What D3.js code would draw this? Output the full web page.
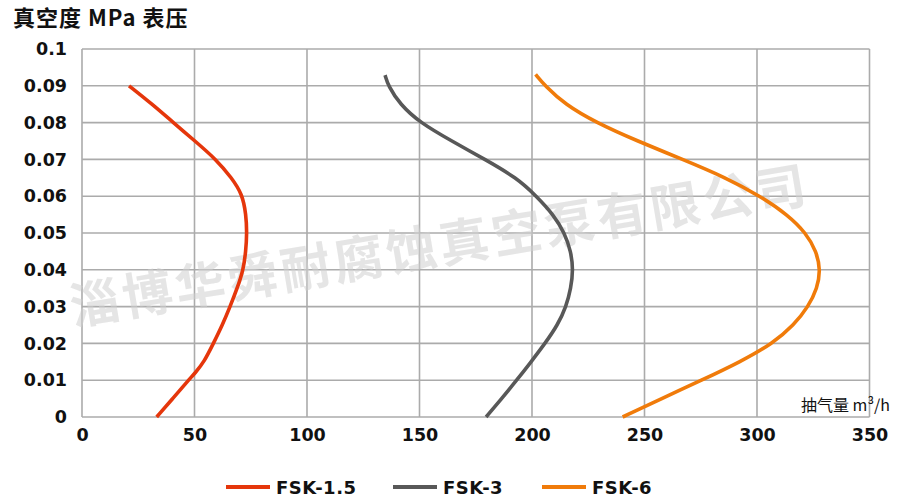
<!DOCTYPE html>
<html>
<head>
<meta charset="utf-8">
<script src="https://cdn.jsdelivr.net/npm/d3@7/dist/d3.min.js"></script>
<style>
html,body{margin:0;padding:0;background:#fff;}
svg{display:block;}
</style>
</head>
<body>
<svg id="chart" width="900" height="502"></svg>
<script>
// ---- data ----
const xTicks = [0, 50, 100, 150, 200, 250, 300, 350];
const yTicks = [0, 0.01, 0.02, 0.03, 0.04, 0.05, 0.06, 0.07, 0.08, 0.09, 0.1];
const yTickLabels = ["0", "0.01", "0.02", "0.03", "0.04", "0.05", "0.06", "0.07", "0.08", "0.09", "0.1"];
const seriesNames = ["FSK-1.5", "FSK-3", "FSK-6"];

const fsk15Flow = [20.9, 31.2, 40.6, 50.2, 59.6, 66.5, 71.3, 72.9, 73.3, 72.8, 71.7, 69, 65.8, 62.4, 58.4, 54.3, 50.2, 47.3, 40.3, 33.2];
const fsk15Vac  = [0.09, 0.085, 0.08, 0.075, 0.07, 0.065, 0.0605, 0.055, 0.05, 0.045, 0.04, 0.035, 0.03, 0.025, 0.02, 0.015, 0.0119, 0.01, 0.005, 0];

const fsk3Flow = [134.7, 136.1, 141.3, 150.2, 164.3, 179.1, 193.2, 202, 209.5, 214.5, 217.3, 218.3, 217.3, 215.2, 211.4, 205.8, 199.6, 193.2, 186.5, 179.6];
const fsk3Vac  = [0.0929, 0.09, 0.085, 0.08, 0.075, 0.07, 0.065, 0.06, 0.055, 0.05, 0.045, 0.04, 0.035, 0.03, 0.025, 0.02, 0.015, 0.01, 0.005, 0];

const fsk6Flow = [201.6, 205.8, 214.6, 228.5, 246.8, 267, 286.3, 301.5, 313.5, 321.8, 326.4, 328.2, 326.8, 322.8, 316.4, 307, 292.6, 275.4, 257.6, 240.3];
const fsk6Vac  = [0.0931, 0.09, 0.085, 0.08, 0.075, 0.07, 0.065, 0.06, 0.055, 0.05, 0.045, 0.04, 0.035, 0.03, 0.025, 0.02, 0.015, 0.01, 0.005, 0];

const seriesFlow = [fsk15Flow, fsk3Flow, fsk6Flow];
const seriesVac = [fsk15Vac, fsk3Vac, fsk6Vac];
const colors = ["#E5360B", "#585858", "#F07B0A"];

// ---- layout ----
const svg = d3.select("#chart");
const plotL = 82, plotR = 869.5, plotT = 49, plotB = 417;

const x = d3.scaleLinear().domain([0, 350]).range([plotL, plotR]);
const y = d3.scaleLinear().domain([0, 0.1]).range([plotB, plotT]);

const numFont = "'DejaVu Sans', Verdana, sans-serif";
const cjkFont = "'Noto Sans CJK SC', 'Noto Sans', sans-serif";

// grid
const grid = svg.append("g");
grid.selectAll("line.h").data(yTicks).enter().append("line")
  .attr("x1", plotL).attr("x2", plotR)
  .attr("y1", d => y(d)).attr("y2", d => y(d))
  .attr("stroke", "#ababab").attr("stroke-width", 1.6);
grid.selectAll("line.v").data(xTicks).enter().append("line")
  .attr("x1", d => x(d)).attr("x2", d => x(d))
  .attr("y1", plotT).attr("y2", plotB)
  .attr("stroke", "#ababab").attr("stroke-width", 1.6);

// watermark
svg.append("text")
  .attr("transform", "translate(440,250) rotate(-9.5)")
  .attr("text-anchor", "middle")
  .attr("dominant-baseline", "middle")
  .attr("font-family", cjkFont)
  .attr("font-weight", "bold")
  .attr("font-size", 50)
  .attr("letter-spacing", 3.5)
  .attr("fill", "#cfcfcf")
  .attr("fill-opacity", 0.55)
  .text("淄博华舜耐腐蚀真空泵有限公司");

// axes
const xAxis = d3.axisBottom(x).tickValues(xTicks).tickSize(0).tickPadding(12).tickFormat(d3.format("d"));
const gx = svg.append("g").attr("transform", `translate(0,${plotB})`).call(xAxis);
gx.select(".domain").remove();
gx.selectAll("text").attr("font-family", numFont).attr("font-weight", "bold")
  .attr("font-size", 17.5).attr("fill", "#111");

const yAxis = d3.axisLeft(y).tickValues(yTicks).tickSize(0).tickPadding(15)
  .tickFormat((d, i) => yTickLabels[i]);
const gy = svg.append("g").attr("transform", `translate(${plotL},0)`).call(yAxis);
gy.select(".domain").remove();
gy.selectAll("text").attr("font-family", numFont).attr("font-weight", "bold")
  .attr("font-size", 17.5).attr("fill", "#111");

// lines
const line = d3.line().x(d => x(d[0])).y(d => y(d[1])).curve(d3.curveBasis);
seriesFlow.forEach((fl, i) => {
  const pts = fl.map((v, j) => [v, seriesVac[i][j]]);
  svg.append("path").datum(pts)
    .attr("d", line)
    .attr("fill", "none")
    .attr("stroke", colors[i])
    .attr("stroke-width", 3.6)
    .attr("stroke-linejoin", "round");
});

// titles
svg.append("text").attr("x", 13).attr("y", 26)
  .attr("font-family", cjkFont).attr("font-weight", "bold")
  .attr("font-size", 22).attr("letter-spacing", 1).attr("fill", "#111")
  .text("真空度 MPa 表压");

svg.append("text").attr("x", 890).attr("y", 411)
  .attr("text-anchor", "end")
  .attr("font-family", cjkFont)
  .attr("font-size", 16).attr("fill", "#111")
  .text("抽气量 m³/h");

// legend
const legendX = [226, 393, 542];
const lg = svg.append("g");
seriesNames.forEach((name, i) => {
  lg.append("line")
    .attr("x1", legendX[i]).attr("x2", legendX[i] + 44)
    .attr("y1", 487).attr("y2", 487)
    .attr("stroke", colors[i]).attr("stroke-width", 4);
  lg.append("text")
    .attr("x", legendX[i] + 50).attr("y", 493.5)
    .attr("font-family", numFont).attr("font-weight", "bold")
    .attr("font-size", 18).attr("letter-spacing", 0.5).attr("fill", "#111")
    .text(name);
});
</script>
</body>
</html>
